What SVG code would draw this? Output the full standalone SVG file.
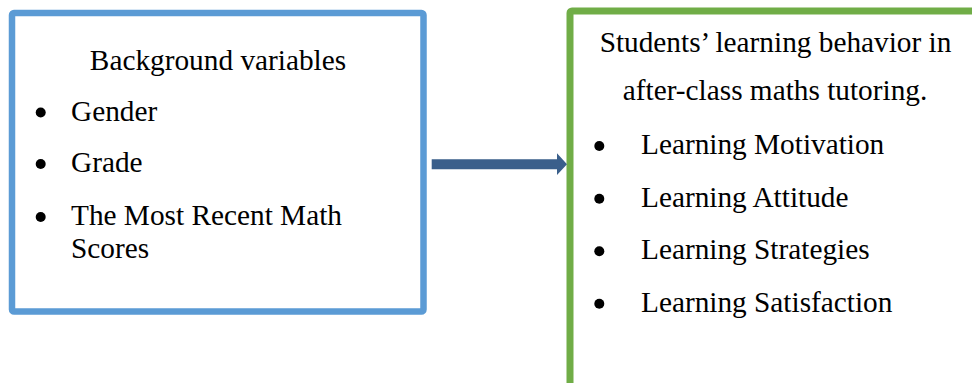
<svg xmlns="http://www.w3.org/2000/svg" width="972" height="383" viewBox="0 0 972 383">
  <style>
    text { font-family: "Liberation Serif", "Times New Roman", serif; font-size: 29.3px; fill: #000; }
    .mid { text-anchor: middle; }
    .bullet { fill: #000; }
  </style>
  <rect width="972" height="383" fill="#fff"/>

  <g id="background-variables">
    <rect x="12" y="13" width="411.5" height="298.5" rx="2" fill="#fff" stroke="#5B9BD5" stroke-width="6.5"/>
    <text class="mid" x="218" y="70">Background variables</text>
    <circle class="bullet" cx="40.7" cy="112.5" r="5"/>
    <text x="71" y="120.7">Gender</text>
    <circle class="bullet" cx="40.7" cy="164" r="5"/>
    <text x="71" y="172">Grade</text>
    <circle class="bullet" cx="40.7" cy="217" r="5"/>
    <text x="71" y="225">The Most Recent Math</text>
    <text x="71" y="258">Scores</text>
  </g>

  <g id="learning-behavior">
    <rect x="570" y="11" width="420" height="390" rx="2" fill="#fff" stroke="#70AD47" stroke-width="7"/>
    <text class="mid" x="775.5" y="51.7">Students’ learning behavior in</text>
    <text class="mid" x="775" y="100">after-class maths tutoring.</text>
    <circle class="bullet" cx="599.3" cy="146" r="5"/>
    <text x="641" y="154">Learning Motivation</text>
    <circle class="bullet" cx="599.3" cy="198.7" r="5"/>
    <text x="641" y="206.7">Learning Attitude</text>
    <circle class="bullet" cx="599.3" cy="251.3" r="5"/>
    <text x="641" y="259.3">Learning Strategies</text>
    <circle class="bullet" cx="599.3" cy="303.7" r="5"/>
    <text x="641" y="311.7">Learning Satisfaction</text>
  </g>

  <g id="connectors">
    <path d="M431.7 159.3 H557 V153.3 L567 164.2 L557 175 V169.3 H431.7 Z" fill="#3A5F8B"/>
  </g>
</svg>
